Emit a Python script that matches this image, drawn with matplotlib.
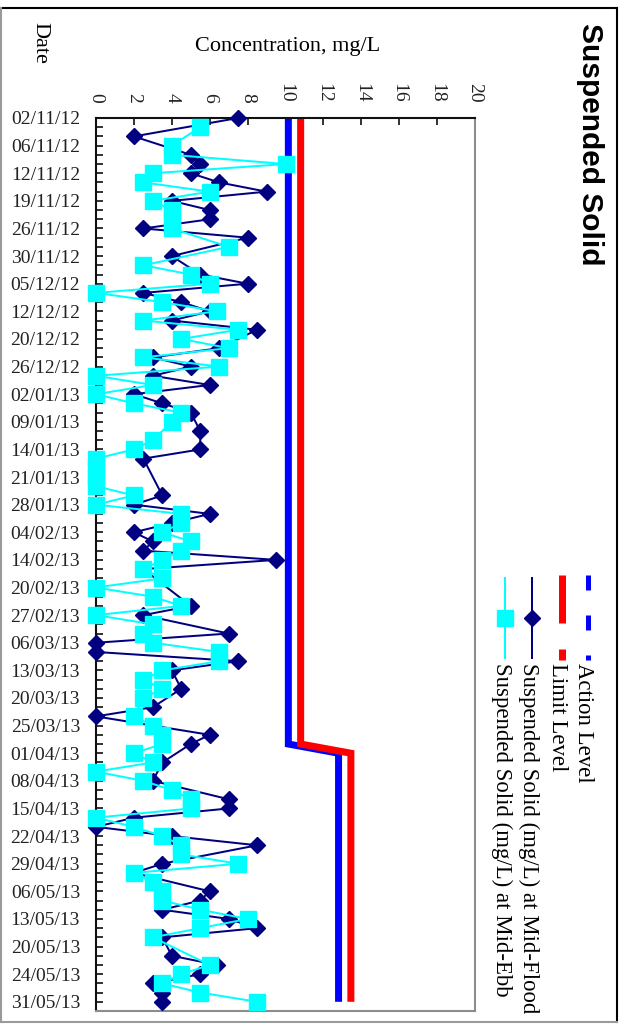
import numpy as np
import matplotlib
matplotlib.use("Agg")
import matplotlib.pyplot as plt
from matplotlib.lines import Line2D

# ---------------- data ----------------
tick_labels = ["02/11/12", "06/11/12", "12/11/12", "19/11/12", "26/11/12", "30/11/12",
               "05/12/12", "12/12/12", "20/12/12", "26/12/12", "02/01/13", "09/01/13",
               "14/01/13", "21/01/13", "28/01/13", "04/02/13", "14/02/13", "20/02/13",
               "27/02/13", "06/03/13", "13/03/13", "20/03/13", "25/03/13", "01/04/13",
               "08/04/13", "15/04/13", "22/04/13", "29/04/13", "06/05/13", "13/05/13",
               "20/05/13", "24/05/13", "31/05/13"]
label_every = 3
n_categories = 97
conc_ticks = [0, 2, 4, 6, 8, 10, 12, 14, 16, 18, 20]

nan = np.nan
flood = [7.5, nan, 2.0, nan, 5.0, 5.5, 5.0, 6.5, 9.0, 4.0,
         6.0, 6.0, 2.5, 8.0, nan, 4.0, nan, 5.5, 8.0, 2.5,
         4.5, 6.0, 4.0, 8.5, nan, 6.5, 3.0, 5.0, 3.0, 6.0,
         2.0, 3.5, 5.0, nan, 5.5, nan, 5.5, 2.5, nan, nan,
         nan, 3.5, 2.0, 6.0, 4.0, 2.0, 3.0, 2.5, 9.5, 2.5,
         nan, nan, nan, 5.0, 2.5, nan, 7.0, 0.0, 0.0, 7.5,
         4.0, nan, 4.5, nan, 3.0, 0.0, nan, 6.0, 5.0, nan,
         3.5, nan, 3.0, nan, 7.0, 7.0, 2.0, 0.0, 4.0, 8.5,
         nan, 3.5, 2.0, nan, 6.0, 5.5, 3.5, 7.0, 8.5, 3.5,
         nan, 4.0, 6.4, 5.5, 3.0, 3.5, 3.5]
ebb = [nan, 5.5, nan, 4.0, 4.0, 10.0, 3.0, 2.5, 6.0, 3.0,
       4.0, 4.0, 4.0, nan, 7.0, nan, 2.5, 5.0, 6.0, 0.0,
       3.5, 6.4, 2.5, 7.5, 4.5, 7.0, 2.5, 6.5, 0.0, 3.0,
       0.0, 2.0, 4.5, 4.0, nan, 3.0, 2.0, 0.0, 0.0, 0.0,
       0.0, 2.0, 0.0, 4.5, 4.5, 3.5, 5.0, 4.5, 3.5, 2.5,
       3.5, 0.0, 3.0, 4.5, 0.0, 3.0, 2.5, 3.0, 6.5, 6.5,
       3.5, 2.5, 3.5, 2.5, nan, 2.0, 3.0, 3.5, 3.5, 2.0,
       3.0, 0.0, 2.5, 4.0, 5.0, 5.0, 0.0, 2.0, 3.5, 4.5,
       4.5, 7.5, 2.0, 3.0, 3.5, 3.5, 5.5, 8.0, 5.5, 3.0,
       nan, nan, 6.0, 4.5, 3.5, 5.5, 8.5]
action_level = [10.15] * 69 + [12.8] * 28
limit_level = [10.8] * 69 + [13.45] * 28

series_names = ["Action Level", "Limit Level",
                "Suspended Solid (mg/L) at Mid-Flood",
                "Suspended Solid (mg/L) at Mid-Ebb"]

# ---------------- figure ----------------
W, H, DPI = 621, 1026, 100
PT = 72.0 / DPI  # points per pixel
plt.rcParams["lines.scale_dashes"] = False
SERIF = ["Liberation Serif", "DejaVu Serif"]
SANS = ["Liberation Sans", "DejaVu Sans"]

fig = plt.figure(figsize=(W / DPI, H / DPI), dpi=DPI)
fig.patch.set_facecolor("white")

ax_l, ax_r, ax_t, ax_b = 96, 475, 118, 1011
ax = fig.add_axes([ax_l / W, 1 - ax_b / H, (ax_r - ax_l) / W, (ax_b - ax_t) / H])
ax.set_xlim(0, 20)
ax.set_ylim(n_categories, 0)

cats = np.arange(n_categories)
flood_a = np.array(flood, dtype=float)
ebb_a = np.array(ebb, dtype=float)

ax.plot(action_level, cats, color="#0000FF", lw=7 * PT, solid_capstyle="butt",
        solid_joinstyle="miter", zorder=2, clip_on=False)
ax.plot(limit_level, cats, color="#FF0000", lw=7 * PT, solid_capstyle="butt",
        solid_joinstyle="miter", zorder=2.1, clip_on=False)
m = ~np.isnan(flood_a)
ax.plot(flood_a[m], cats[m], color="#000080", lw=2 * PT, marker="D", ms=8.5,
        mfc="#000080", mec="#000080", zorder=3, clip_on=False)
m = ~np.isnan(ebb_a)
ax.plot(ebb_a[m], cats[m], color="#00FFFF", lw=2 * PT, marker="s", ms=12,
        mfc="#00FFFF", mec="#00FFFF", zorder=4, clip_on=False)

# axes styling
ax.xaxis.tick_top()
ax.set_xticks(conc_ticks)
ax.set_xticklabels([str(t) for t in conc_ticks], rotation=-90, fontfamily=SERIF,
                   fontsize=14)
ax.tick_params(axis="x", direction="in", length=7 * PT, width=1.3, pad=15 * PT,
               colors="#222222")
major_pos = list(range(0, n_categories, label_every))
ax.set_yticks(major_pos)
ax.set_yticklabels(tick_labels, fontfamily=SERIF, fontsize=14)
ax.set_yticks(range(0, n_categories + 1), minor=True)
ax.tick_params(axis="y", which="both", direction="in", length=7 * PT, width=1.3,
               pad=16 * PT, colors="#222222")
for s in ["top", "left"]:
    ax.spines[s].set_color("#111111")
    ax.spines[s].set_linewidth(1.5)
for s in ["right", "bottom"]:
    ax.spines[s].set_color("#8c8c8c")
    ax.spines[s].set_linewidth(1.5)

# ---------------- overlay: frame, titles, legend ----------------
ov = fig.add_axes([0, 0, 1, 1])
ov.set_xlim(0, W)
ov.set_ylim(H, 0)
ov.axis("off")
ov.patch.set_alpha(0)

# outer frame
ov.add_line(Line2D([1, 617], [8, 8], color="black", lw=1.5))
ov.add_line(Line2D([617, 617], [8, 1022], color="black", lw=1.5))
ov.add_line(Line2D([1, 1], [8, 1022], color="#9a9a9a", lw=1.5))
ov.add_line(Line2D([1, 617], [1022, 1022], color="#9a9a9a", lw=1.5))

ov.text(590, 23, "Suspended Solid", rotation=-90, ha="center", va="top",
        fontfamily=SANS, fontweight="bold", fontsize=21.5)
ov.text(40, 22, "Date", rotation=-90, ha="center", va="top",
        fontfamily=SERIF, fontsize=16)
ov.text(288, 47, "Concentration, mg/L", ha="center", va="center",
        fontfamily=SERIF, fontsize=16)

# legend (rotated)
ov.add_line(Line2D([588, 588], [575, 660], color="#0000FF", lw=5 * PT,
                   dashes=(15 * PT, 25 * PT), solid_capstyle="butt",
                   dash_capstyle="butt"))
ov.add_line(Line2D([562, 562], [575, 660], color="#FF0000", lw=7 * PT,
                   dashes=(48 * PT, 26 * PT), dash_capstyle="butt"))
ov.add_line(Line2D([532, 532], [578, 658], color="#000080", lw=2 * PT))
ov.add_line(Line2D([532], [618], color="#000080", marker="D", ms=8.5,
                   mfc="#000080", mec="#000080", lw=0))
ov.add_line(Line2D([505, 505], [578, 658], color="#00FFFF", lw=2 * PT))
ov.add_line(Line2D([505], [618], color="#00FFFF", marker="s", ms=12,
                   mfc="#00FFFF", mec="#00FFFF", lw=0))
for xc, name in zip([584, 557, 529, 502], series_names):
    ov.text(xc, 663, name, rotation=-90, ha="center", va="top",
            fontfamily=SERIF, fontsize=16.4)

fig.savefig("out.png", dpi=DPI, facecolor="white")
